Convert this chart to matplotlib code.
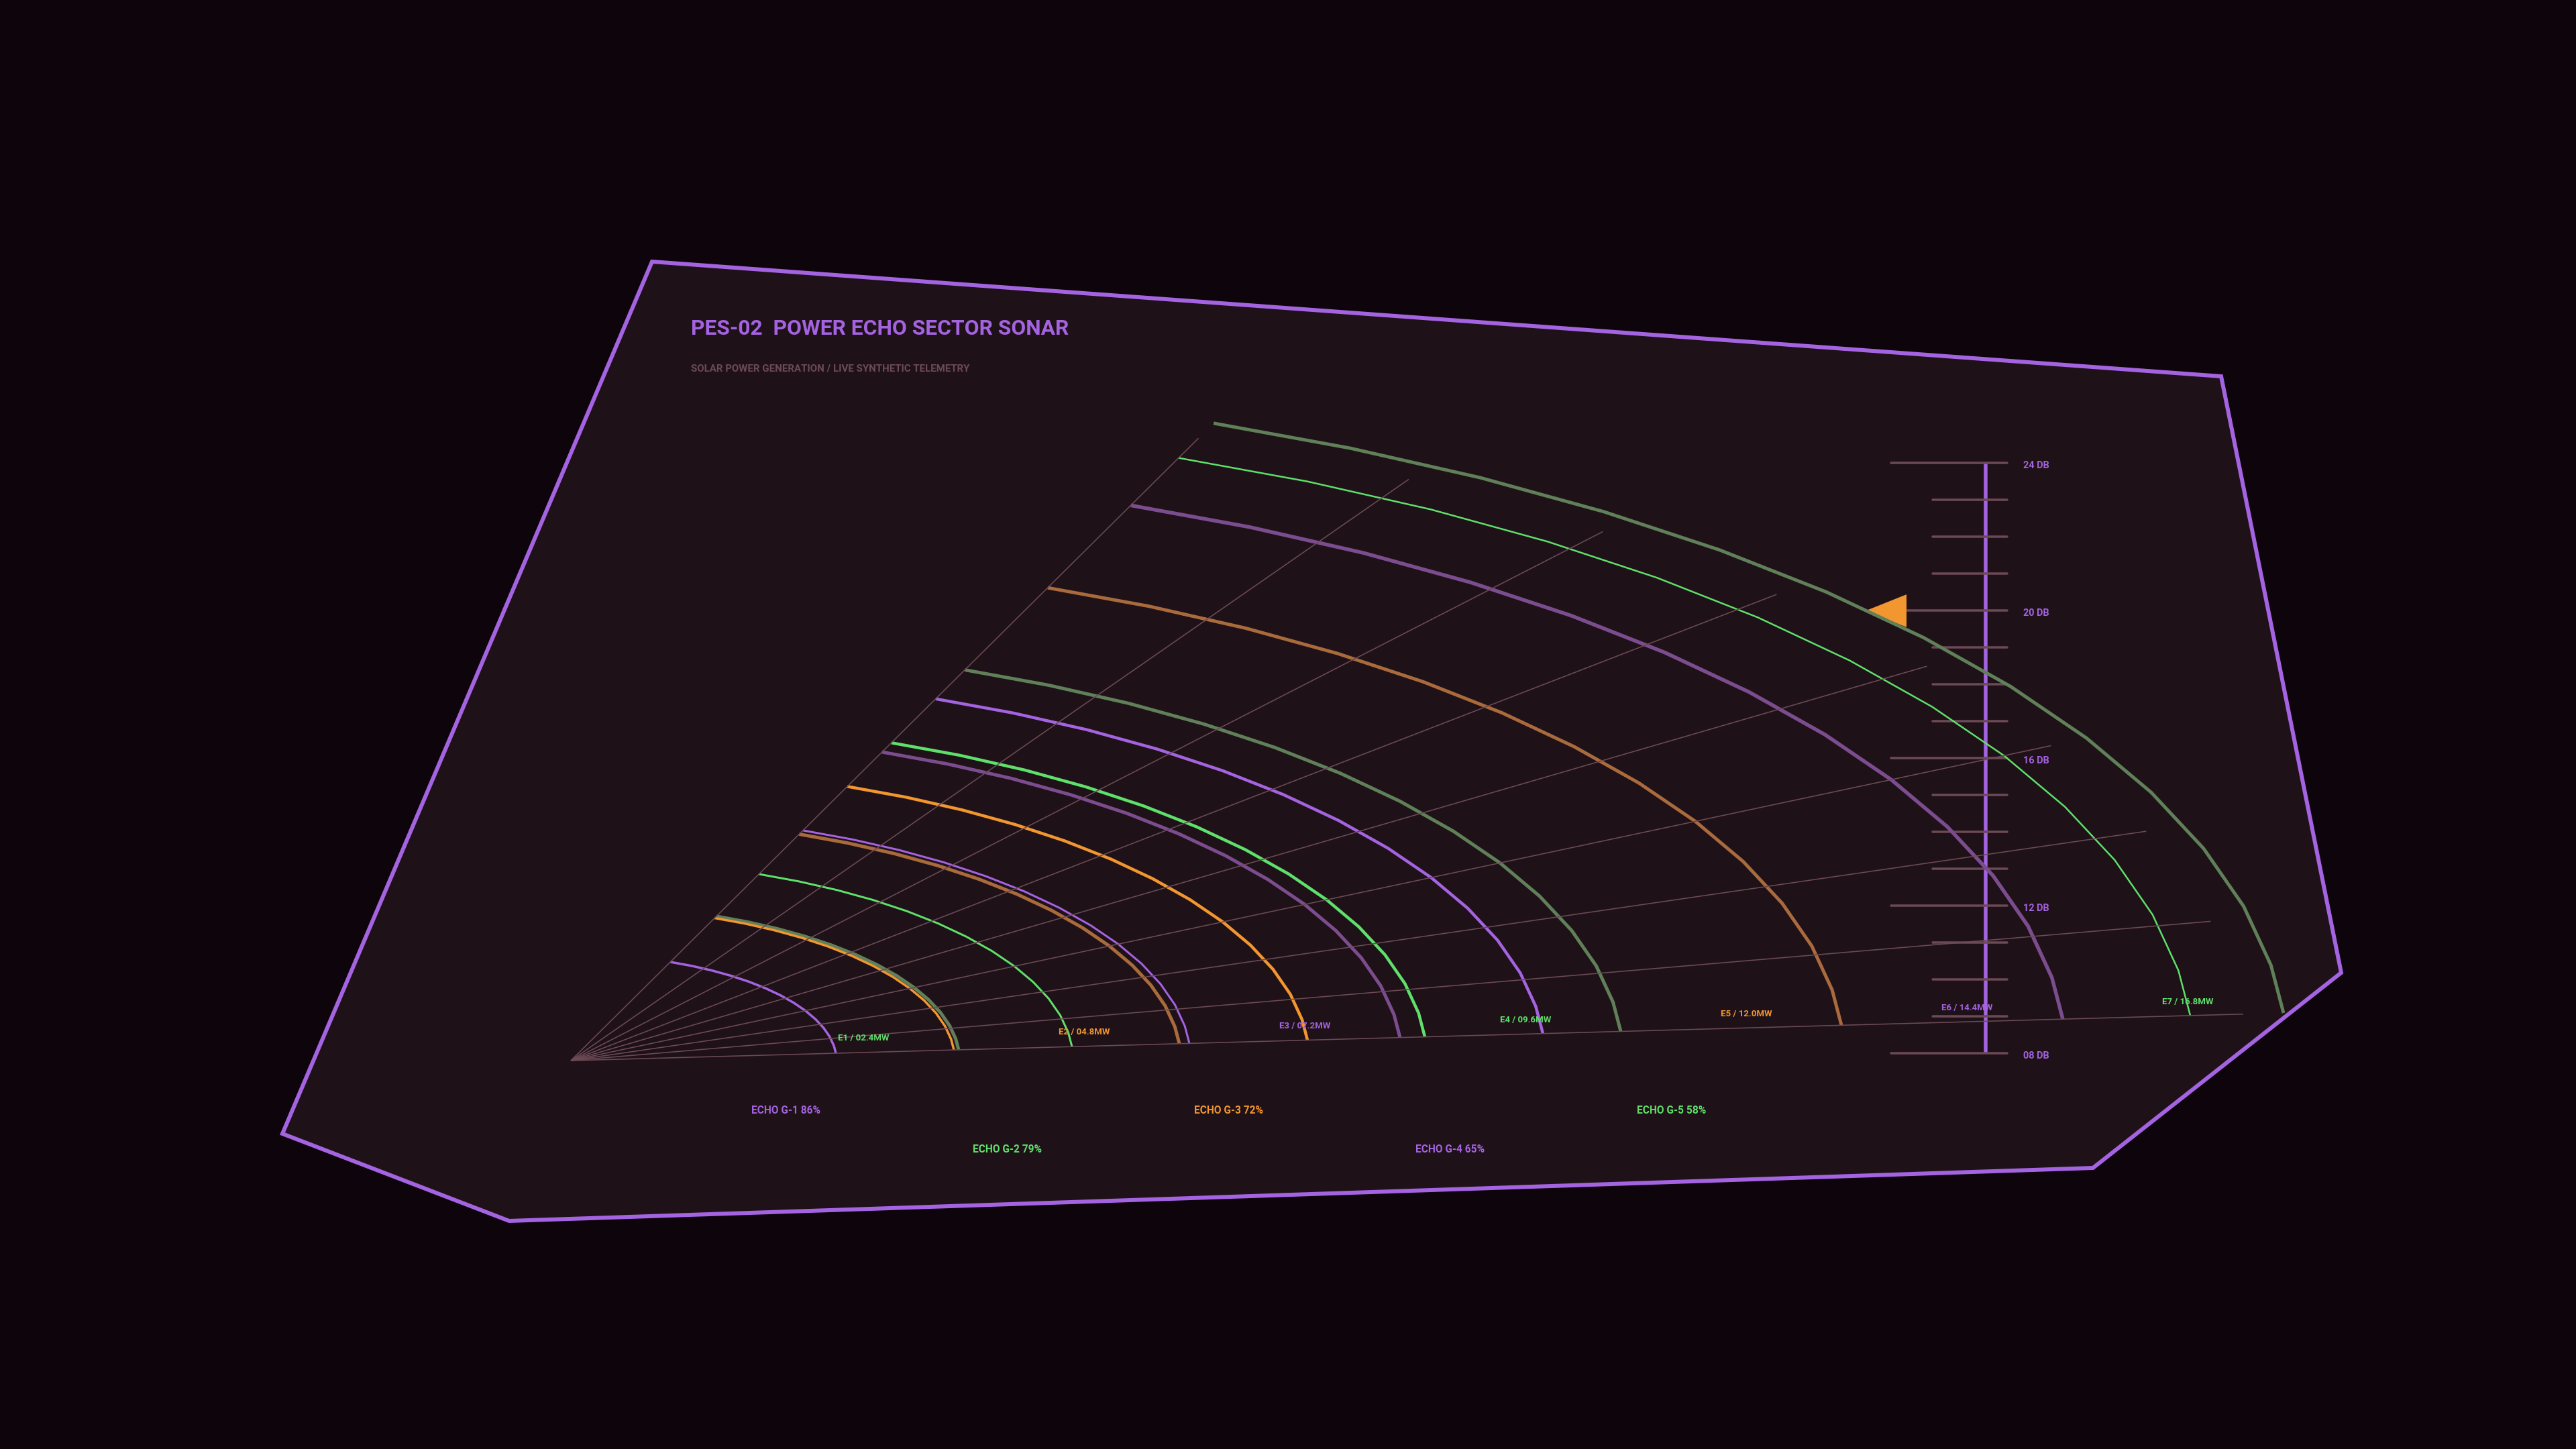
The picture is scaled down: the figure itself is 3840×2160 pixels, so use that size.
import numpy as np
import matplotlib
matplotlib.use('Agg')
import matplotlib.pyplot as plt
from matplotlib.patches import Polygon
from matplotlib.transforms import Affine2D

# colours
BG = '#0d040c'
PANEL = '#1f1118'
PURPLE = '#a463e0'
GREEN = '#5ee06a'
ORANGE = '#f29630'
GRID = '#6b4a55'
GREEN_DIM = '#5f8058'
ORANGE_DIM = '#a96a3c'
PURPLE_DIM = '#7b4d8f'

# echo arcs, range is measured along the bottom ray
arc_range = [395, 578, 571, 747, 907, 922, 1098, 1236, 1273, 1449, 1565, 1894, 2224, 2414, 2553]
arc_color = [PURPLE, GREEN_DIM, ORANGE, GREEN, ORANGE_DIM, PURPLE, ORANGE, PURPLE_DIM, GREEN,
             PURPLE, GREEN_DIM, ORANGE_DIM, PURPLE_DIM, GREEN, GREEN_DIM]
arc_width = [3.5, 5, 3.5, 3, 5, 3, 4.5, 5, 4.5, 4.5, 5, 5, 5.5, 2.5, 5]

# sector
ray_angles = [0, 8, 16, 24, 32, 40, 48, 56, 64]
ray_length = 2493

# labels
echo_names = ['E1', 'E2', 'E3', 'E4', 'E5', 'E6', 'E7']
echo_mw = ['02.4', '04.8', '07.2', '09.6', '12.0', '14.4', '16.8']
echo_colors = [GREEN, ORANGE, PURPLE, GREEN, ORANGE, PURPLE, GREEN]
group_names = ['G-1', 'G-2', 'G-3', 'G-4', 'G-5']
group_pct = [86, 79, 72, 65, 58]
group_colors = [PURPLE, GREEN, ORANGE, PURPLE, GREEN]

# scale on the right
db_ticks = list(range(8, 25))
db_major = [8, 12, 16, 20, 24]
db_needle = 20

panel_xy = [(972, 390), (3311, 561), (3490, 1450), (3120, 1741), (759, 1820), (421, 1690)]

W, H = 3840, 2160
px = 0.72  # pixels to points at dpi 100
plt.rcParams['font.family'] = ['Roboto', 'DejaVu Sans']

fig = plt.figure(figsize=(38.4, 21.6), dpi=100, facecolor=BG)


def full_axes(z):
    a = fig.add_axes([0, 0, 1, 1], zorder=z)
    a.set_xlim(0, W)
    a.set_ylim(H, 0)
    a.axis('off')
    return a


ax_bg = full_axes(0)
ax_bg.add_patch(Polygon(panel_xy, closed=True, facecolor=PANEL, edgecolor=PURPLE,
                        linewidth=6 * px, joinstyle='miter'))

# db scale, y axis of this one is in dB
scale_top, scale_bottom = 690, 1570
ax_scale = fig.add_axes([2700 / W, 1 - scale_bottom / H, 400 / W, (scale_bottom - scale_top) / H], zorder=1)
ax_scale.set_xlim(2700, 3100)
ax_scale.set_ylim(8, 24)
ax_scale.axis('off')
ax_scale.plot([2960, 2960], [8, 24], color=PURPLE, lw=5.5 * px, solid_capstyle='butt', clip_on=False)
for db in db_ticks:
    x0 = 2819 if db in db_major else 2881
    ax_scale.plot([x0, 2992], [db, db], color=GRID, lw=3.5 * px, solid_capstyle='round', clip_on=False)
for db in db_major:
    ax_scale.text(3016, db - 0.065, '%02d DB' % db, color=PURPLE, fontsize=14.5 * px,
                  fontweight='bold', va='center', ha='left', clip_on=False)
ax_scale.plot([2810.5], [db_needle], marker=[(-1, 0), (1, 0.8), (1, -0.8)], markersize=61 * px,
              color=ORANGE, markeredgewidth=0, clip_on=False)

# sector drawn flat, then squashed on to the screen with one affine
ax = full_axes(2)
flat = Affine2D.from_values(1, -0.0278, -0.0702, -0.4005, 851, 1581) + ax.transData

# arcs are stepped every 5 degrees from the top ray, last step is a short one
theta = np.radians(np.append(np.arange(64, 0, -5), 0))
for r, c, w in zip(arc_range, arc_color, arc_width):
    ax.plot(r * np.cos(theta), r * np.sin(theta), color=c, lw=w * px,
            solid_capstyle='butt', solid_joinstyle='miter', transform=flat, zorder=3, clip_on=False)

for a in ray_angles:
    t = np.radians(a)
    ax.plot([0, ray_length * np.cos(t)], [0, ray_length * np.sin(t)], color=GRID, lw=1.6 * px,
            solid_capstyle='butt', transform=flat, zorder=4, clip_on=False)

# text stays horizontal
ax.text(1030, 490, 'PES-02  POWER ECHO SECTOR SONAR', color=PURPLE, fontsize=31.8 * px,
        fontweight='bold', va='center', ha='left', zorder=6)
ax.text(1030, 550, 'SOLAR POWER GENERATION / LIVE SYNTHETIC TELEMETRY', color=GRID, fontsize=15 * px,
        fontweight='bold', va='center', ha='left', zorder=6)

for i, (n, v, c) in enumerate(zip(echo_names, echo_mw, echo_colors)):
    ax.text(1287 + 329 * i, 1547.7 - 9 * i, '%s / %sMW' % (n, v), color=c, fontsize=13.2 * px,
            fontweight='bold', va='center', ha='center', zorder=6)

for i, (n, p, c) in enumerate(zip(group_names, group_pct, group_colors)):
    y = 1713 if i % 2 else 1655
    ax.text(1120 + 330 * i, y, 'ECHO %s %d%%' % (n, p), color=c, fontsize=15.5 * px,
            fontweight='bold', va='center', ha='left', zorder=6)

fig.savefig('out.png', dpi=100, facecolor=BG)
